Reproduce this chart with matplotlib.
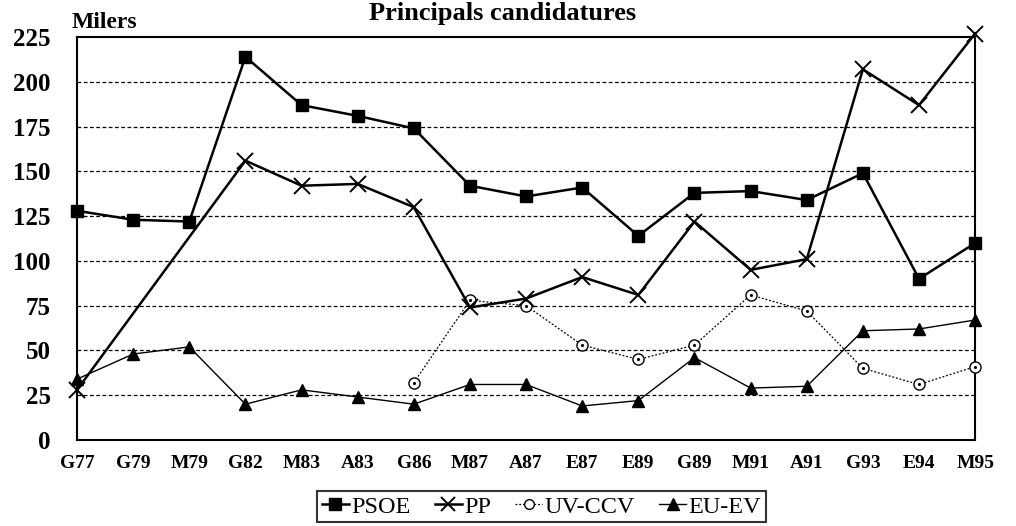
import numpy as np
import matplotlib
matplotlib.use("Agg")
import matplotlib.pyplot as plt
from matplotlib.lines import Line2D

categories = ["G77", "G79", "M79", "G82", "M83", "A83", "G86", "M87", "A87",
              "E87", "E89", "G89", "M91", "A91", "G93", "E94", "M95"]
psoe = [128, 123, 122, 214, 187, 181, 174, 142, 136, 141, 114, 138, 139, 134, 149, 90, 110]
pp = [28, np.nan, np.nan, 156, 142, 143, 130, 74, 79, 91, 81, 122, 95, 101, 207, 187, 227]
uv_ccv = [np.nan] * 6 + [32, 78, 75, 53, 45, 53, 81, 72, 40, 31, 41]
eu_ev = [34, 48, 52, 20, 28, 24, 20, 31, 31, 19, 22, 46, 29, 30, 61, 62, 67]
yticks = [0, 25, 50, 75, 100, 125, 150, 175, 200, 225]

plt.rcParams['font.family'] = ['Liberation Serif', 'DejaVu Serif']

fig = plt.figure(figsize=(10.16, 5.26), dpi=100)
ax = fig.add_axes([0.0758, 0.1635, 0.884, 0.766])

x = np.arange(len(categories))

def plot_series(vals, **kw):
    v = np.array(vals, dtype=float)
    m = ~np.isnan(v)
    return ax.plot(x[m], v[m], clip_on=False, **kw)

plot_series(psoe, color='black', lw=1.8, marker='s', ms=8.5, zorder=4)
plot_series(pp, color='black', lw=1.8, marker='x', ms=11, mew=1.4, zorder=4)
plot_series(uv_ccv, color='black', lw=0.9, ls=(0, (1.5, 1.5)), marker='o', ms=8,
            mfc='white', mec='black', mew=1.0, zorder=3)
plot_series(uv_ccv, color='none', lw=0, marker='.', ms=2.5, mfc='black', mec='black', zorder=5)
plot_series(eu_ev, color='black', lw=1.0, marker='^', ms=8, zorder=4)

ax.set_xlim(0, len(categories) - 1)
ax.set_ylim(0, 225)
ax.set_yticks(yticks)
ax.set_yticklabels([str(t) for t in yticks], fontsize=18, fontweight='bold')
ax.set_xticks(x)
ax.set_xticklabels(categories, fontsize=14, fontweight='bold')
ax.tick_params(axis='y', length=0, pad=19)
ax.tick_params(axis='x', length=0, pad=11)
for t in yticks[1:-1]:
    ax.axhline(t, color='black', lw=0.9, ls=(0, (3, 2)), zorder=1)
for s in ax.spines.values():
    s.set_linewidth(1.5)
    s.set_color('black')

fig.text(0.103, 0.958, "Milers", fontsize=17, fontweight='bold', ha='center', va='center')
fig.text(0.495, 0.996, "Principals candidatures", fontsize=19, fontweight='bold',
         ha='center', va='top')

handles = [
    Line2D([], [], color='black', lw=1.8, marker='s', ms=8),
    Line2D([], [], color='black', lw=1.8, marker='x', ms=10, mew=1.4),
    Line2D([], [], color='black', lw=0.9, ls=(0, (1.5, 1.5)), marker='o', ms=7, mfc='white', mec='black'),
    Line2D([], [], color='black', lw=1.0, marker='^', ms=8),
]
leg = fig.legend(handles, ["PSOE", "PP", "UV-CCV", "EU-EV"], loc='center',
                 bbox_to_anchor=(0.533, 0.037), ncol=4, fontsize=17.5, frameon=True,
                 fancybox=False, edgecolor='black', handlelength=1.1, handletextpad=0.1,
                 columnspacing=1.0, borderpad=0.2, borderaxespad=0)
leg.get_frame().set_linewidth(1.5)

fig.savefig("out.png", dpi=100)
